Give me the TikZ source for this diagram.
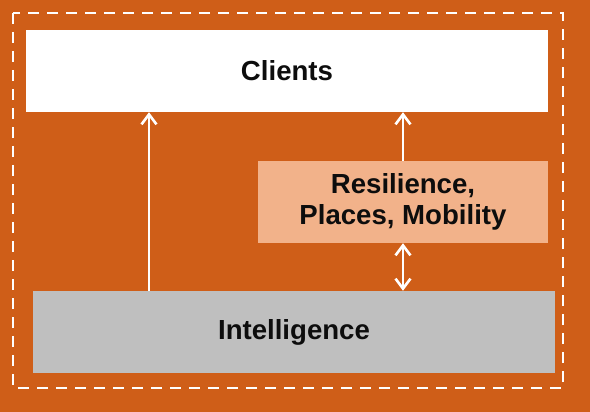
\documentclass[tikz,border=0pt]{standalone}
\usepackage{fontspec}
\setmainfont{Liberation Sans}
\usetikzlibrary{arrows.meta}
\definecolor{bgorange}{HTML}{CF5E18}
\definecolor{boxpeach}{HTML}{F2B28A}
\definecolor{boxgray}{HTML}{BFBFBF}
\definecolor{txt}{HTML}{0D0D0D}
\tikzset{
  blk/.style={rectangle, inner sep=0pt, minimum height=82pt, text=txt,
    font=\fontsize{27.6}{31}\selectfont\bfseries, align=center},
  tip/.tip={Straight Barb[length=10pt,width=15pt,line width=2.6pt]},
  conn/.style={draw=white, line width=2.6pt, -tip},
  dconn/.style={draw=white, line width=2.6pt, tip-tip},
}
\begin{document}
\begin{tikzpicture}[x=1pt,y=-1pt]
  \fill[bgorange] (0,0) rectangle (590,412);
  \useasboundingbox (0,0) rectangle (590,412);
  \draw[white, line width=2.3pt, dash pattern=on 11pt off 8pt] (13,13) rectangle (563,388);
  \node[blk, fill=white, minimum width=522pt] (clients) at (287,71) {Clients};
  \node[blk, fill=boxpeach, minimum width=290pt] (resil) at (403,202) {Resilience,\\Places, Mobility};
  \node[blk, fill=boxgray, minimum width=522pt] (intel) at (294,332) {Intelligence};
  \coordinate (ax) at (149,0);
  \draw[conn] (intel.north -| ax) -- (clients.south -| ax);
  \draw[conn] (resil.north) -- (clients.south -| resil.north);
  \draw[dconn] (resil.south) -- (intel.north -| resil.south);
\end{tikzpicture}
\end{document}
